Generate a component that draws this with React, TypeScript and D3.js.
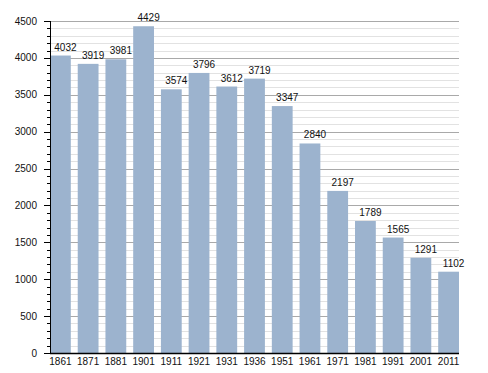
import { useEffect, useRef } from "react"
import * as d3 from "d3"

const years = ["1861", "1871", "1881", "1901", "1911", "1921", "1931", "1936", "1951", "1961", "1971", "1981", "1991", "2001", "2011"]
const population = [4032, 3919, 3981, 4429, 3574, 3796, 3612, 3719, 3347, 2840, 2197, 1789, 1565, 1291, 1102]
const majorTicks = [0, 500, 1000, 1500, 2000, 2500, 3000, 3500, 4000, 4500]
const minorTicks = d3.range(0, 4501, 100)

export default function App() {
    const svgRef = useRef(null)

    useEffect(() => {
        const width = 488
        const height = 373
        const margin = { top: 21, right: 29, bottom: 20, left: 50 }
        const font = "'Liberation Sans', Arial, sans-serif"

        const root = d3.select(svgRef.current)
        root.selectAll("*").remove()
        root.attr("width", width).attr("height", height)

        const x = d3
            .scaleBand()
            .domain(years)
            .range([margin.left, width - margin.right])
            .paddingInner(0.25)
            .paddingOuter(0)

        const y = d3
            .scaleLinear()
            .domain([0, 4500])
            .range([height - margin.bottom, margin.top])

        const x0 = margin.left
        const x1 = width - margin.right

        // minor grid
        root
            .append("g")
            .selectAll("line")
            .data(minorTicks.filter((t) => t % 500 !== 0))
            .enter()
            .append("line")
            .attr("x1", x0)
            .attr("x2", x1)
            .attr("y1", (d) => Math.round(y(d)) + 0.5)
            .attr("y2", (d) => Math.round(y(d)) + 0.5)
            .attr("stroke", "#e2e2e2")

        // major grid
        root
            .append("g")
            .selectAll("line")
            .data(majorTicks.filter((t) => t > 0))
            .enter()
            .append("line")
            .attr("x1", x0)
            .attr("x2", x1)
            .attr("y1", (d) => Math.round(y(d)) + 0.5)
            .attr("y2", (d) => Math.round(y(d)) + 0.5)
            .attr("stroke", "#a9a9a9")

        // bars
        root
            .append("g")
            .selectAll("rect")
            .data(population)
            .enter()
            .append("rect")
            .attr("x", (d, i) => x(years[i]))
            .attr("y", (d) => y(d))
            .attr("width", x.bandwidth())
            .attr("height", (d) => y(0) - y(d))
            .attr("fill", "#9cb3ce")

        // value labels
        root
            .append("g")
            .selectAll("text")
            .data(population)
            .enter()
            .append("text")
            .attr("x", (d, i) => x(years[i]) + x.bandwidth() / 2 + 5)
            .attr("y", (d) => y(d) - 5)
            .attr("text-anchor", "middle")
            .attr("font-family", font)
            .attr("font-size", 10)
            .attr("fill", "#111")
            .text((d) => d)

        // y axis
        const yAxis = root.append("g")
        yAxis
            .append("line")
            .attr("x1", x0 + 0.5)
            .attr("x2", x0 + 0.5)
            .attr("y1", y(4500))
            .attr("y2", y(0))
            .attr("stroke", "#000")
        yAxis
            .selectAll(".minor")
            .data(minorTicks)
            .enter()
            .append("line")
            .attr("x1", (d) => (d % 500 === 0 ? x0 - 6 : x0 - 3))
            .attr("x2", x0)
            .attr("y1", (d) => Math.round(y(d)) + 0.5)
            .attr("y2", (d) => Math.round(y(d)) + 0.5)
            .attr("stroke", "#000")
        yAxis
            .selectAll("text")
            .data(majorTicks)
            .enter()
            .append("text")
            .attr("x", x0 - 13)
            .attr("y", (d) => y(d) + 3.5)
            .attr("text-anchor", "end")
            .attr("font-family", font)
            .attr("font-size", 10)
            .attr("fill", "#111")
            .text((d) => d)

        // x axis
        const xAxis = root.append("g")
        xAxis
            .append("line")
            .attr("x1", x0)
            .attr("x2", x1)
            .attr("y1", Math.round(y(0)) + 0.5)
            .attr("y2", Math.round(y(0)) + 0.5)
            .attr("stroke", "#000")
            .attr("stroke-width", 1.5)
        xAxis
            .selectAll("text")
            .data(years)
            .enter()
            .append("text")
            .attr("x", (d) => x(d) + x.bandwidth() / 2)
            .attr("y", y(0) + 12)
            .attr("text-anchor", "middle")
            .attr("font-family", font)
            .attr("font-size", 10)
            .attr("fill", "#111")
            .text((d) => d)
    }, [])

    return (
        <div style={{ position: "absolute", left: 0, top: 0, background: "#fff" }}>
            <svg ref={svgRef}></svg>
        </div>
    )
}
